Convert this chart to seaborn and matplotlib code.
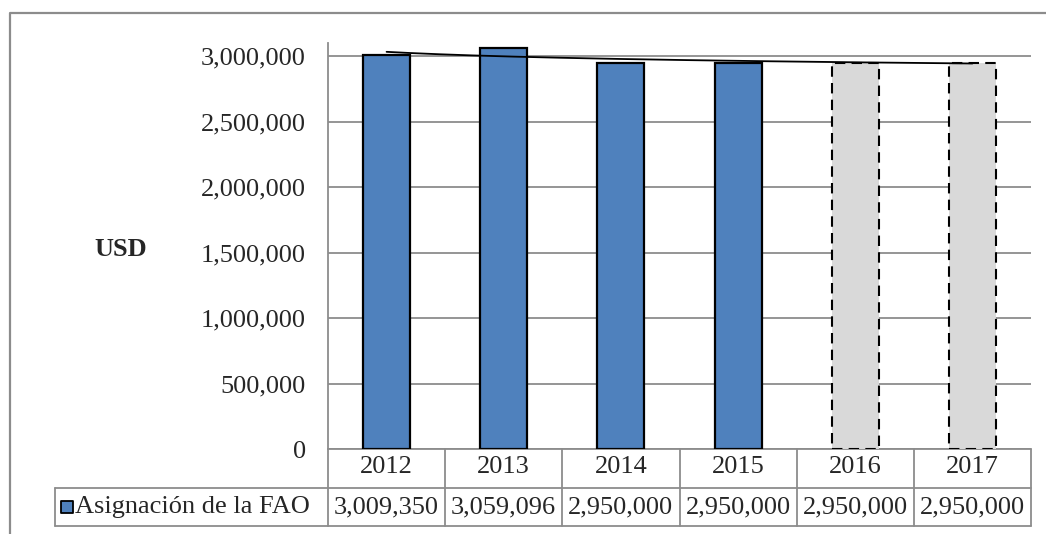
import numpy as np
import pandas as pd
import matplotlib
matplotlib.use("Agg")
import matplotlib.pyplot as plt
from matplotlib.lines import Line2D
import matplotlib.transforms as mtransforms
import seaborn as sns

# ---- data ----
years = ["2012", "2013", "2014", "2015", "2016", "2017"]
values = [3009350, 3059096, 2950000, 2950000, 2950000, 2950000]
status = ["Ejecutado", "Ejecutado", "Ejecutado", "Ejecutado", "Proyectado", "Proyectado"]
series_label = "Asignación de la FAO"
y_label = "USD"
y_ticks = [0, 500000, 1000000, 1500000, 2000000, 2500000, 3000000]

BLUE = "#4F81BD"
GRAY_FILL = "#D9D9D9"
GRID = "#8C8C8C"

sns.set_style("white")
plt.rcParams["font.family"] = ["Liberation Serif", "DejaVu Serif"]
FS = 19

df = pd.DataFrame({"year": years, "value": values, "status": status})

fig = plt.figure(figsize=(10.46, 5.34), dpi=100)
W, H = 1046, 534
ax = fig.add_axes([328 / W, 1 - 449 / H, (1031 - 328) / W, (449 - 43) / H])

sns.barplot(data=df, x="year", y="value", hue="status",
            palette={"Ejecutado": BLUE, "Proyectado": GRAY_FILL},
            saturation=1, dodge=False, width=0.4, edgecolor="black",
            linewidth=1.6, legend=False, ax=ax, zorder=3)

for p in ax.patches:
    idx = int(round(p.get_x() + p.get_width() / 2))
    if 0 <= idx < len(status) and status[idx] == "Proyectado":
        p.set_linestyle((0, (5, 3)))
        p.set_linewidth(1.5)

# logarithmic trend line fitted to the data
t = np.arange(1, len(values) + 1)
coef = np.polyfit(np.log(t), np.array(values, dtype=float), 1)
tt = np.linspace(1, len(values), 200)
ax.plot(tt - 1, coef[0] * np.log(tt) + coef[1], color="black", lw=1.3, zorder=4)

ax.set_xlim(-0.5, len(years) - 0.5)
ax.set_ylim(0, 3100000)
ax.set_yticks(y_ticks)
ax.set_yticklabels([f"{v:,.0f}" for v in y_ticks], fontsize=FS)
ax.tick_params(axis="y", length=0, pad=16)
ax.set_xlabel("")
ax.set_ylabel("")
ax.yaxis.grid(True, color=GRID, lw=1.3, zorder=0)
ax.set_axisbelow(True)
for s in ["top", "right", "bottom"]:
    ax.spines[s].set_visible(False)
ax.spines["left"].set_color(GRID)
ax.spines["left"].set_linewidth(1.3)

# header row = x tick labels
ax.set_xticks(range(len(years)))
ax.set_xticklabels(years, fontsize=FS)
ax.tick_params(axis="x", length=0, pad=13)
for lab in ax.get_xticklabels():
    lab.set_va("center")

# ---- data table below ----
trans = mtransforms.blended_transform_factory(ax.transData, ax.transAxes)
ah = 449 - 43
y_head = -39 / ah
y_data = -77 / ah
tkw = dict(color=GRID, lw=1.3, clip_on=False)
for i in range(len(years) + 1):
    xb = -0.5 + i
    ax.add_line(Line2D([xb, xb], [0, y_data], transform=trans, **tkw))
ax.add_line(Line2D([-0.5, len(years) - 0.5], [0, 0], transform=trans, **tkw))
x_leg = (55 - 328) / (1031 - 328)
for yy in [y_head, y_data]:
    ax.add_line(Line2D([x_leg, 1], [yy, yy], transform=ax.transAxes, **tkw))
ax.add_line(Line2D([x_leg, x_leg], [y_head, y_data], transform=ax.transAxes, **tkw))

for i, v in enumerate(values):
    ax.text(i, (y_head + y_data) / 2, f"{v:,.0f}", transform=trans,
            ha="center", va="center", fontsize=FS, clip_on=False)

ax.scatter([(67 - 328) / 703], [(y_head + y_data) / 2], transform=ax.transAxes,
           marker="s", s=85, color=BLUE, edgecolor="black", linewidth=1.3,
           clip_on=False, zorder=5)
ax.text((75 - 328) / 703, (y_head + y_data) / 2, series_label,
        transform=ax.transAxes, ha="left", va="center", fontsize=FS, clip_on=False)

fig.text(121 / W, 1 - 250 / H, y_label, ha="center", va="center",
         fontsize=FS, fontweight="bold")

# outer frame (top and left)
fig.add_artist(Line2D([10 / W, 10 / W, 1.0], [0.0, 1 - 13 / H, 1 - 13 / H],
                      transform=fig.transFigure, color="#8C8C8C", lw=1.6))

fig.savefig("out.png", dpi=100)
